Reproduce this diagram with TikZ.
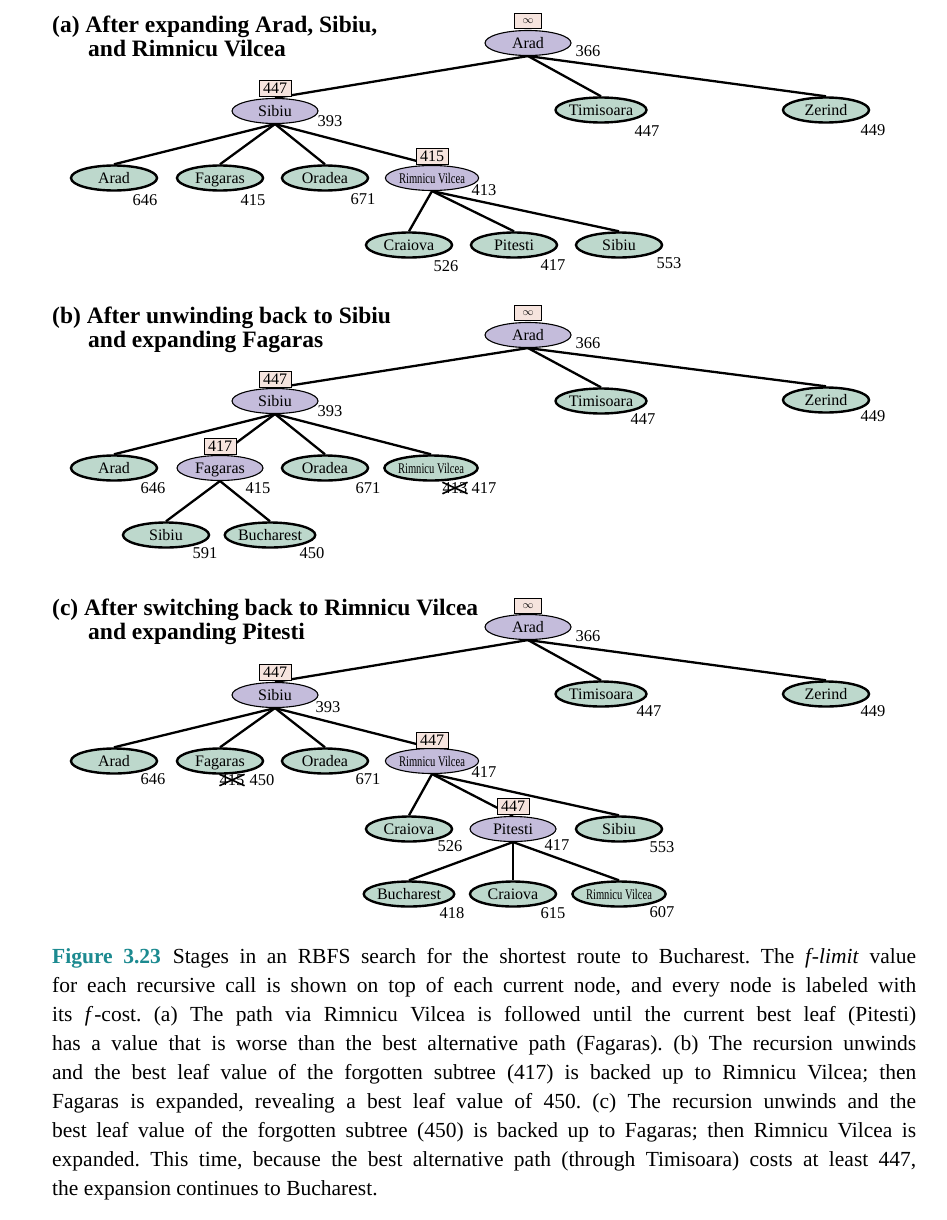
\documentclass[tikz,border=0pt]{standalone}
\usepackage{fontspec}
\usepackage{graphicx}
\setmainfont{Liberation Serif}
\usetikzlibrary{shapes.geometric}
\definecolor{leafgreen}{HTML}{BDD8CC}
\definecolor{pathpurple}{HTML}{C4BCDB}
\definecolor{limitpink}{HTML}{F6E4DE}
\definecolor{figteal}{HTML}{1C8A90}
\newcommand\ndfont{\fontsize{16}{16}\selectfont}
\newcommand\numfnt{\fontsize{16.5}{16.5}\selectfont}
\newcommand\ttlfont{\fontsize{23.5}{24}\selectfont\bfseries}
\newcommand\rvname{\scalebox{0.66}[0.92]{Rimnicu Vilcea}}
\newcommand\infsym{\fontsize{11}{11}\selectfont$\infty$}
\newcommand\capline[1]{\makebox[\linewidth][s]{#1}\par}
\pgfdeclarelayer{paper}
\pgfdeclarelayer{edges}
\pgfsetlayers{paper,edges,main}
\begin{document}
\begin{tikzpicture}[x=1pt,y=-1pt,
  gnode/.style={ellipse, draw, line width=2.4pt, fill=leafgreen, minimum width=86pt,
    minimum height=25pt, inner sep=0pt, text height=10.6pt, text depth=0pt, font=\ndfont},
  pnode/.style={gnode, line width=1.1pt, fill=pathpurple},
  flimit/.style={draw, line width=0.8pt, fill=limitpink, minimum width=32pt,
    minimum height=16pt, inner sep=0pt, font=\ndfont},
  inflimit/.style={flimit, minimum width=27pt, minimum height=15pt},
  fcost/.style={inner sep=0pt, font=\numfnt},
  title/.style={anchor=base west, inner sep=0pt, font=\ttlfont},
  edge/.style={line width=2.3pt},
  strike/.style={line width=1.6pt}]

\begin{pgfonlayer}{paper}
  \fill[white] (0,0) rectangle (946,1220);
\end{pgfonlayer}
\useasboundingbox (0,0) rectangle (946,1220);

% ---------------- (a) ----------------
\node[title] (ta1) at (52,33) {(a) After expanding Arad, Sibiu,};
\node[title] (ta2) at (88,57) {and Rimnicu Vilcea};

\node[pnode] (aArad) at (528,43) {Arad};
\node[inflimit] (aAradL) at (528,21) {\infsym};
\node[fcost] (aAradC) at (588,51) {366};
\node[pnode] (aSib) at (275,111) {Sibiu};
\node[flimit] (aSibL) at (275,88) {447};
\node[fcost] (aSibC) at (330,121) {393};
\node[gnode] (aTim) at (601,110) {Timisoara};
\node[fcost] (aTimC) at (647,131) {447};
\node[gnode] (aZer) at (826,110) {Zerind};
\node[fcost] (aZerC) at (873,130) {449};
\node[gnode] (aArad2) at (114,178) {Arad};
\node[fcost] (aArad2C) at (145,200) {646};
\node[gnode] (aFag) at (220,178) {Fagaras};
\node[fcost] (aFagC) at (253,200) {415};
\node[gnode] (aOra) at (325,178) {Oradea};
\node[fcost] (aOraC) at (363,199) {671};
\node[pnode] (aRV) at (432,178) {\rvname};
\node[flimit] (aRVL) at (432,156) {415};
\node[fcost] (aRVC) at (484,190) {413};
\node[gnode] (aCra) at (409,245) {Craiova};
\node[fcost] (aCraC) at (446,266) {526};
\node[gnode] (aPit) at (514,245) {Pitesti};
\node[fcost] (aPitC) at (553,265) {417};
\node[gnode] (aSib2) at (619,245) {Sibiu};
\node[fcost] (aSib2C) at (669,263) {553};

\begin{pgfonlayer}{edges}
  \foreach \c in {aSib,aTim,aZer} \draw[edge] (aArad.south) -- (\c.north);
  \foreach \c in {aArad2,aFag,aOra,aRV} \draw[edge] (aSib.south) -- (\c.north);
  \foreach \c in {aCra,aPit,aSib2} \draw[edge] (aRV.south) -- (\c.north);
\end{pgfonlayer}

% ---------------- (b) ----------------
\node[title] (tb1) at (52,323) {(b) After unwinding back to Sibiu};
\node[title] (tb2) at (88,347) {and expanding Fagaras};

\node[pnode] (bArad) at (528,335) {Arad};
\node[inflimit] (bAradL) at (528,313) {\infsym};
\node[fcost] (bAradC) at (588,343) {366};
\node[pnode] (bSib) at (275,401) {Sibiu};
\node[flimit] (bSibL) at (275,379) {447};
\node[fcost] (bSibC) at (330,411) {393};
\node[gnode] (bTim) at (601,401) {Timisoara};
\node[fcost] (bTimC) at (643,419) {447};
\node[gnode] (bZer) at (826,400) {Zerind};
\node[fcost] (bZerC) at (873,416) {449};
\node[gnode] (bArad2) at (114,468) {Arad};
\node[fcost] (bArad2C) at (153,488) {646};
\node[pnode] (bFag) at (220,468) {Fagaras};
\node[flimit] (bFagL) at (220,446) {417};
\node[fcost] (bFagC) at (258,488) {415};
\node[gnode] (bOra) at (325,468) {Oradea};
\node[fcost] (bOraC) at (368,488) {671};
\node[gnode] (bRV) at (431,468) {\rvname};
\node[fcost] (bRVold) at (455,488) {413};
\draw[strike] (bRVold.south west) -- (bRVold.north east);
\draw[strike] (bRVold.north west) -- (bRVold.south east);
\node[fcost] (bRVC) at (484,488) {417};
\node[gnode] (bSib3) at (166,535) {Sibiu};
\node[fcost] (bSib3C) at (205,553) {591};
\node[gnode] (bBuc) at (270,535) {Bucharest};
\node[fcost] (bBucC) at (312,553) {450};

\begin{pgfonlayer}{edges}
  \foreach \c in {bSib,bTim,bZer} \draw[edge] (bArad.south) -- (\c.north);
  \foreach \c in {bArad2,bFag,bOra,bRV} \draw[edge] (bSib.south) -- (\c.north);
  \foreach \c in {bSib3,bBuc} \draw[edge] (bFag.south) -- (\c.north);
\end{pgfonlayer}

% ---------------- (c) ----------------
\node[title] (tc1) at (52,615) {(c) After switching back to Rimnicu Vilcea};
\node[title] (tc2) at (88,639) {and expanding Pitesti};

\node[pnode] (cArad) at (528,627) {Arad};
\node[inflimit] (cAradL) at (528,606) {\infsym};
\node[fcost] (cAradC) at (588,636) {366};
\node[pnode] (cSib) at (275,695) {Sibiu};
\node[flimit] (cSibL) at (275,672) {447};
\node[fcost] (cSibC) at (328,707) {393};
\node[gnode] (cTim) at (601,694) {Timisoara};
\node[fcost] (cTimC) at (649,711) {447};
\node[gnode] (cZer) at (826,694) {Zerind};
\node[fcost] (cZerC) at (873,711) {449};
\node[gnode] (cArad2) at (114,761) {Arad};
\node[fcost] (cArad2C) at (153,779) {646};
\node[gnode] (cFag) at (220,761) {Fagaras};
\node[fcost] (cFagold) at (232,780) {415};
\draw[strike] (cFagold.south west) -- (cFagold.north east);
\draw[strike] (cFagold.north west) -- (cFagold.south east);
\node[fcost] (cFagC) at (262,780) {450};
\node[gnode] (cOra) at (325,761) {Oradea};
\node[fcost] (cOraC) at (368,779) {671};
\node[pnode] (cRV) at (432,761) {\rvname};
\node[flimit] (cRVL) at (432,740) {447};
\node[fcost] (cRVC) at (484,772) {417};
\node[gnode] (cCra) at (409,829) {Craiova};
\node[fcost] (cCraC) at (450,846) {526};
\node[pnode] (cPit) at (513,829) {Pitesti};
\node[flimit] (cPitL) at (513,806) {447};
\node[fcost] (cPitC) at (557,845) {417};
\node[gnode] (cSib2) at (619,829) {Sibiu};
\node[fcost] (cSib2C) at (662,847) {553};
\node[gnode] (cBuc) at (409,894) {Bucharest};
\node[fcost] (cBucC) at (452,913) {418};
\node[gnode] (cCra2) at (513,894) {Craiova};
\node[fcost] (cCra2C) at (553,913) {615};
\node[gnode] (cRV2) at (619,894) {\rvname};
\node[fcost] (cRV2C) at (662,912) {607};

\begin{pgfonlayer}{edges}
  \foreach \c in {cSib,cTim,cZer} \draw[edge] (cArad.south) -- (\c.north);
  \foreach \c in {cArad2,cFag,cOra,cRV} \draw[edge] (cSib.south) -- (\c.north);
  \foreach \c in {cCra,cPit,cSib2} \draw[edge] (cRV.south) -- (\c.north);
  \foreach \c in {cBuc,cCra2,cRV2} \draw[edge] (cPit.south) -- (\c.north);
\end{pgfonlayer}

% ---------------- caption ----------------
\node[anchor=base west, inner sep=0pt] (caption) at (52,963) {%
  \parbox[t]{864pt}{\fontsize{21.5}{29}\selectfont\parindent=0pt\frenchspacing
  \capline{{\color{figteal}\bfseries Figure 3.23}\hspace{0.55em}Stages in an RBFS search for the shortest route to Bucharest. The \textit{f\kern1pt-limit} value}
  \capline{for each recursive call is shown on top of each current node, and every node is labeled with}
  \capline{its \textit{f}\kern1pt-cost. (a) The path via Rimnicu Vilcea is followed until the current best leaf (Pitesti)}
  \capline{has a value that is worse than the best alternative path (Fagaras). (b) The recursion unwinds}
  \capline{and the best leaf value of the forgotten subtree (417) is backed up to Rimnicu Vilcea; then}
  \capline{Fagaras is expanded, revealing a best leaf value of 450. (c) The recursion unwinds and the}
  \capline{best leaf value of the forgotten subtree (450) is backed up to Fagaras; then Rimnicu Vilcea is}
  \capline{expanded. This time, because the best alternative path (through Timisoara) costs at least 447,}
  the expansion continues to Bucharest.}};
\end{tikzpicture}
\end{document}
